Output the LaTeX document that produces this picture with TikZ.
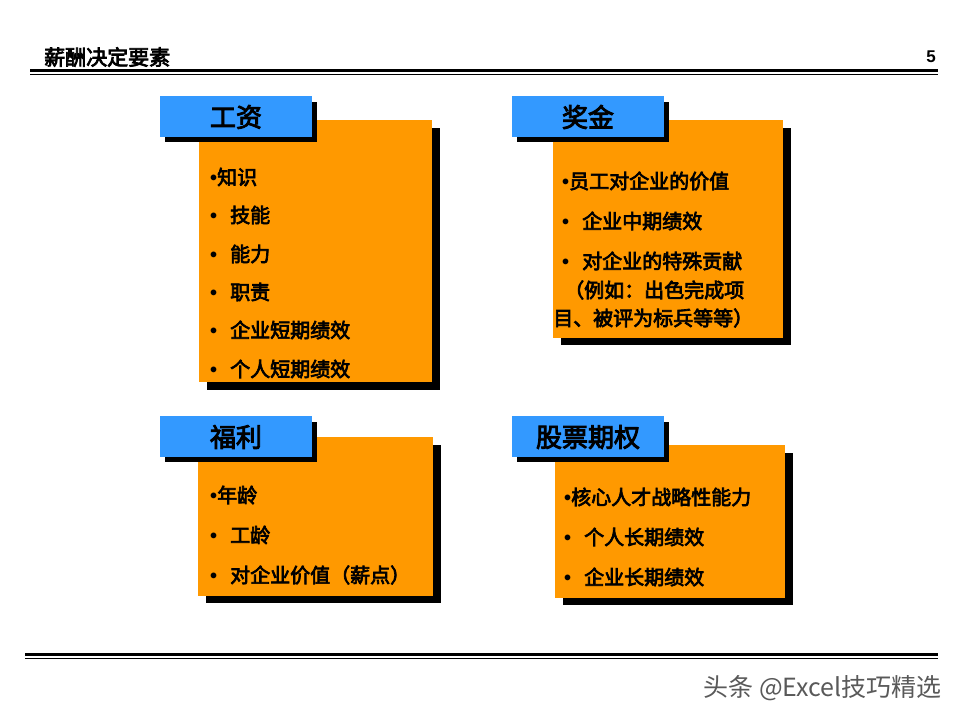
\documentclass[tikz,border=0pt]{standalone}
\usepackage{fontspec}
\setmainfont[AutoFakeBold=3.5]{Noto Sans CJK SC}
\newfontfamily\latinf{Liberation Sans}
\newcommand\mybul{{\latinf\bfseries•}}
\newcommand\mybulsp{{\latinf\bfseries•}\hspace{13pt}}
\definecolor{lblue}{HTML}{3399FF}
\definecolor{orng}{HTML}{FF9900}
\begin{document}
\begin{tikzpicture}[x=1pt,y=-1pt,
  itm/.style={anchor=west,inner sep=0pt,font=\fontsize{20}{20}\selectfont\bfseries},
  lbl/.style={anchor=center,inner sep=0pt,font=\fontsize{26}{26}\selectfont\bfseries},
  shad/.style={fill=black},
  ob/.style={fill=orng},
  bb/.style={fill=lblue}]
\useasboundingbox (0,0) rectangle (960,720);
% header
\node[anchor=west,inner sep=0pt,font=\fontsize{21}{21}\selectfont\bfseries] (title) at (44,57) {薪酬决定要素};
\node[anchor=east,inner sep=0pt,font=\fontsize{17}{17}\selectfont\bfseries\latinf] (pg) at (936,57) {5};
\fill (30,69) rectangle (938,72);
\fill (30,74) rectangle (938,75);
\fill (25,653) rectangle (938,656);
\fill (25,658) rectangle (938,659);
% box 1
\fill[shad] (207,128) rectangle (440,390);
\fill[ob] (199,120) rectangle (432,382);
\fill[shad] (165,102) rectangle (317,142);
\fill[bb] (160,96) rectangle (312,137);
\node[lbl] (l1) at (236,117) {工资};
\node[itm] (a1) at (210,177) {\mybul 知识};
\node[itm] (a2) at (210,215) {\mybulsp 技能};
\node[itm] (a3) at (210,254) {\mybulsp 能力};
\node[itm] (a4) at (210,292) {\mybulsp 职责};
\node[itm] (a5) at (210,330) {\mybulsp 企业短期绩效};
\node[itm] (a6) at (210,369) {\mybulsp 个人短期绩效};
% box 2
\fill[shad] (561,128) rectangle (791,345);
\fill[ob] (553,120) rectangle (783,338);
\fill[shad] (517,102) rectangle (669,142);
\fill[bb] (512,96) rectangle (664,137);
\node[lbl] (l2) at (588,117) {奖金};
\node[itm] (b1) at (562,181) {\mybul 员工对企业的价值};
\node[itm] (b2) at (562,221) {\mybulsp 企业中期绩效};
\node[itm] (b3) at (562,261) {\mybulsp 对企业的特殊贡献};
\node[itm] (b4) at (564,290) {（例如：出色完成项};
\node[itm] (b5) at (553,318) {目、被评为标兵等等）};
% box 3
\fill[shad] (206,445) rectangle (441,603);
\fill[ob] (198,437) rectangle (433,596);
\fill[shad] (165,422) rectangle (317,462);
\fill[bb] (160,416) rectangle (312,457);
\node[lbl] (l3) at (236,437) {福利};
\node[itm] (c1) at (210,495) {\mybul 年龄};
\node[itm] (c2) at (210,535) {\mybulsp 工龄};
\node[itm] (c3) at (210,575) {\mybulsp 对企业价值（薪点）};
% box 4
\fill[shad] (563,453) rectangle (793,605);
\fill[ob] (555,445) rectangle (785,598);
\fill[shad] (517,422) rectangle (669,462);
\fill[bb] (512,416) rectangle (664,457);
\node[lbl] (l4) at (588,437) {股票期权};
\node[itm] (d1) at (564,497) {\mybul 核心人才战略性能力};
\node[itm] (d2) at (564,537) {\mybulsp 个人长期绩效};
\node[itm] (d3) at (564,577) {\mybulsp 企业长期绩效};
% watermark
\node[anchor=east,inner sep=0pt,text=black!65,font=\fontsize{25}{25}\selectfont] (wm) at (942,688) {头条 @Excel技巧精选};
\end{tikzpicture}
\end{document}
